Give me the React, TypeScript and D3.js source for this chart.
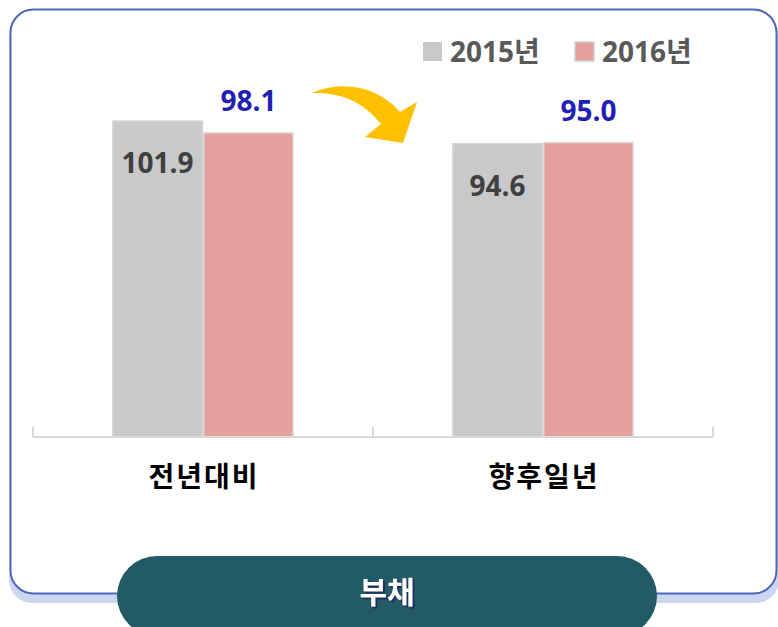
import React from "react";
import * as d3 from "d3";

const categories = ["전년대비", "향후일년"];
const seriesNames = ["2015년", "2016년"];
const values2015 = [101.9, 94.6];
const values2016 = [98.1, 95.0];
const panelTitle = "부채";

const W = 778;
const H = 627;
const colors = ["#c9c9c9", "#e6a09e"];
const FONT = "'Open Sans', 'Noto Sans CJK KR', sans-serif";
const KFONT = "'Noto Sans CJK KR', 'Open Sans', sans-serif";

export default function App() {
  const x0 = d3.scaleBand<string>().domain(categories).range([33, 713]).paddingInner(0).paddingOuter(0);
  const x1 = d3
    .scaleBand<string>()
    .domain(seriesNames)
    .range([0, x0.bandwidth()])
    .paddingInner(0.015)
    .paddingOuter(0.88);
  const y = d3.scaleLinear().domain([0, 120]).range([437, 65]);
  const series = [values2015, values2016];

  const tickXs = [...categories.map((c) => x0(c) as number), (x0(categories[categories.length - 1]) as number) + x0.bandwidth()];

  const arrowPath =
    "M312,93 C340,80 378,86 400,112 L417,102 L403,143 L365,137 L381,124 C362,100 338,92 312,93 Z";

  return (
    <svg
      width={W}
      height={H}
      style={{ position: "absolute", left: 0, top: 0, background: "#fff" }}
      fontFamily={FONT}
    >
      <defs>
        <filter id="txtShadow" x="-20%" y="-20%" width="140%" height="140%">
          <feDropShadow dx={2} dy={2} stdDeviation={0.3} floodColor="#1b2f63" floodOpacity={1} />
        </filter>
      </defs>
      {/* card shadow */}
      <rect x={9} y={17} width={770} height={586} rx={23} ry={23} fill="#cbd7f0" />
      {/* card */}
      <rect x={10.5} y={9.5} width={766} height={584} rx={23} ry={23} fill="#ffffff" stroke="#4b68b8" strokeWidth={2} />

      {/* legend */}
      {seriesNames.map((s, i) => {
        const lx = [423, 575][i];
        return (
          <g key={s}>
            <rect x={lx} y={42} width={19} height={19} fill={colors[i]} stroke={i === 1 ? "#d0d0d0" : "none"} strokeWidth={1.5} />
            <text x={lx + 27} y={62} fontSize={28} fontWeight={700} fill="#595959">
              {s}
            </text>
          </g>
        );
      })}

      {/* bars */}
      {categories.map((c, ci) => (
        <g key={c} transform={`translate(${x0(c)},0)`}>
          {seriesNames.map((s, si) => {
            const v = series[si][ci];
            const bx = x1(s) as number;
            const bw = x1.bandwidth();
            return (
              <g key={s}>
                <rect
                  x={bx}
                  y={y(v)}
                  width={bw}
                  height={y(0) - y(v)}
                  fill={colors[si]}
                  stroke={si === 1 ? "#dcdcdc" : "#d4d4d4"}
                  strokeWidth={1.5}
                />
                {si === 0 ? (
                  <text x={bx + bw / 2} y={y(v) + 52} textAnchor="middle" fontSize={28} fontWeight={700} fill="#404040">
                    {v.toFixed(1)}
                  </text>
                ) : (
                  <text x={bx + bw / 2} y={y(v) - 22} textAnchor="middle" fontSize={28} fontWeight={700} fill="#1f1fb4">
                    {v.toFixed(1)}
                  </text>
                )}
              </g>
            );
          })}
        </g>
      ))}

      {/* axis */}
      <line x1={33} x2={713} y1={437} y2={437} stroke="#d9d9d9" strokeWidth={2} />
      {tickXs.map((tx, i) => (
        <line key={i} x1={tx} x2={tx} y1={427} y2={437} stroke="#d9d9d9" strokeWidth={2} />
      ))}
      {categories.map((c) => (
        <text
          key={c}
          x={(x0(c) as number) + x0.bandwidth() / 2 + 1}
          y={487}
          textAnchor="middle"
          fontSize={28}
          fontWeight={700}
          fill="#000"
          fontFamily={KFONT}
          letterSpacing={2}
        >
          {c}
        </text>
      ))}

      {/* arrow */}
      <path d={arrowPath} fill="#ffc000" />

      {/* banner */}
      <rect x={117} y={556} width={540} height={80} rx={40} ry={40} fill="#225a66" />
      <text
        x={387}
        y={603}
        textAnchor="middle"
        fontSize={30}
        fontWeight={700}
        fill="#ffffff"
        fontFamily={KFONT}
        filter="url(#txtShadow)"
      >
        {panelTitle}
      </text>
    </svg>
  );
}
